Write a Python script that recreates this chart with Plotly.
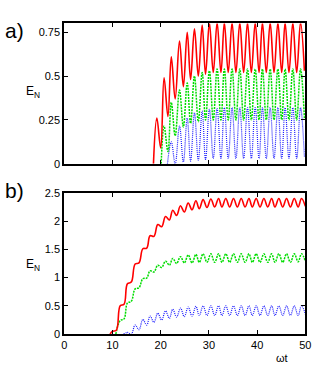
import plotly.graph_objects as go

# ---------------------------------------------------------------------------
# Dados (extremos das oscilações)
# ---------------------------------------------------------------------------
# painel a): instantes dos máximos/mínimos
ta = [19.2, 20.0, 20.7, 21.5, 22.2, 23.0, 23.9, 24.7, 25.5, 26.2,
      27.0, 27.8, 28.6, 29.3, 30.1, 30.9, 31.7, 32.5, 33.2, 34.0,
      34.8, 35.6, 36.4, 37.2, 38.0, 38.8, 39.6, 40.4, 41.1, 41.9,
      42.7, 43.5, 44.3, 45.1, 45.8, 46.6, 47.4, 48.2, 49.0, 49.8]

red_a_t0 = 18.5
red_a = [0.26, 0.09, 0.49, 0.27, 0.61, 0.37, 0.70, 0.44, 0.75, 0.48,
         0.77, 0.50, 0.79, 0.51, 0.805, 0.52, 0.805, 0.52, 0.805, 0.52,
         0.805, 0.52, 0.805, 0.52, 0.805, 0.52, 0.805, 0.52, 0.805, 0.52,
         0.805, 0.52, 0.805, 0.52, 0.805, 0.52, 0.805, 0.52, 0.805, 0.53]

green_a_t0 = 20.1
green_a = [0.215, 0.07, 0.35, 0.16, 0.42, 0.21, 0.46, 0.23, 0.50, 0.24,
           0.52, 0.25, 0.53, 0.25, 0.54, 0.25, 0.54, 0.25, 0.54, 0.25,
           0.54, 0.25, 0.54, 0.25, 0.54, 0.25, 0.54, 0.25, 0.54, 0.25,
           0.54, 0.25, 0.54, 0.25, 0.54, 0.25, 0.54, 0.26]

blue_a_t0 = 21.4
blue_a = [0.125, 0.00, 0.215, 0.01, 0.26, 0.015, 0.29, 0.02, 0.30, 0.025,
          0.31, 0.03, 0.315, 0.03, 0.32, 0.03, 0.32, 0.03, 0.32, 0.03,
          0.32, 0.03, 0.32, 0.03, 0.32, 0.03, 0.32, 0.03, 0.32, 0.03,
          0.32, 0.03, 0.32, 0.03, 0.32, 0.04]

# painel b)
tb = [10.0, 10.8, 11.6, 12.4, 13.1, 13.9, 14.7, 15.5, 16.3, 17.1,
      17.8, 18.6, 19.4, 20.2, 21.0, 21.8, 22.5, 23.3, 24.1, 24.9,
      25.7, 26.5, 27.3, 28.0, 28.8, 29.6, 30.4, 31.2, 32.0, 32.7,
      33.5, 34.3, 35.1, 35.9, 36.7, 37.5, 38.3, 39.0, 39.8, 40.6,
      41.4, 42.2, 43.0, 43.7, 44.5, 45.3, 46.1, 46.9, 47.7, 48.5,
      49.2, 50.0]

red_b_t0 = 9.5
red_b = [0.05, 0.07, 0.50, 0.53, 0.89, 0.92, 1.24, 1.26, 1.51, 1.52,
         1.74, 1.73, 1.94, 1.90, 2.08, 2.02, 2.19, 2.10, 2.27, 2.16,
         2.32, 2.20, 2.36, 2.22, 2.38, 2.24, 2.39, 2.25, 2.40, 2.25,
         2.40, 2.25, 2.40, 2.25, 2.40, 2.25, 2.40, 2.25, 2.40, 2.25,
         2.40, 2.25, 2.40, 2.25, 2.40, 2.25, 2.40, 2.25, 2.40, 2.25,
         2.40, 2.26]

green_b_t0 = 10.7
green_b = [0.24, 0.27, 0.55, 0.58, 0.80, 0.82, 0.98, 0.99, 1.12, 1.10,
           1.22, 1.18, 1.29, 1.22, 1.34, 1.25, 1.37, 1.26, 1.40, 1.26,
           1.41, 1.27, 1.42, 1.27, 1.42, 1.27, 1.42, 1.27, 1.42, 1.27,
           1.42, 1.27, 1.42, 1.27, 1.42, 1.27, 1.42, 1.27, 1.42, 1.27,
           1.42, 1.27, 1.42, 1.27, 1.42, 1.27, 1.42, 1.28, 1.42, 1.29]

blue_b_t0 = 12.3
blue_b = [0.03, 0.00, 0.16, 0.08, 0.26, 0.16, 0.32, 0.21, 0.37, 0.25,
          0.41, 0.28, 0.44, 0.30, 0.46, 0.31, 0.48, 0.32, 0.49, 0.33,
          0.50, 0.33, 0.50, 0.33, 0.50, 0.33, 0.50, 0.33, 0.50, 0.33,
          0.50, 0.33, 0.50, 0.33, 0.50, 0.33, 0.50, 0.33, 0.50, 0.33,
          0.50, 0.33, 0.50, 0.33, 0.50, 0.33, 0.50, 0.35]

ticks_x = [0, 10, 20, 30, 40, 50]
ticks_a = [0, 0.25, 0.5, 0.75]
ticks_b = [0, 0.5, 1, 1.5, 2, 2.5]

VERMELHO = '#ff0000'
VERDE = '#00dd00'
AZUL = '#2020ff'

# ---------------------------------------------------------------------------
fig = go.Figure()

def curva(t0, ts, ys, cor, dash, largura, xa, ya):
    fig.add_trace(go.Scatter(
        x=[t0] + ts, y=[0] + ys, mode='lines',
        line=dict(color=cor, width=largura, dash=dash, shape='spline', smoothing=1.1),
        xaxis=xa, yaxis=ya, showlegend=False, hoverinfo='skip'))

# painel a)
curva(blue_a_t0, ta[4:], blue_a, AZUL, '1px,1px', 1.2, 'x', 'y')
curva(green_a_t0, ta[2:], green_a, VERDE, '2px,1px', 1.5, 'x', 'y')
curva(red_a_t0, ta, red_a, VERMELHO, 'solid', 1.6, 'x', 'y')
# painel b)
curva(blue_b_t0, tb[4:], blue_b, AZUL, '1px,1px', 1.2, 'x2', 'y2')
curva(green_b_t0, tb[2:], green_b, VERDE, '2px,1px', 1.5, 'x2', 'y2')
curva(red_b_t0, tb, red_b, VERMELHO, 'solid', 1.6, 'x2', 'y2')

eixo = dict(showgrid=False, zeroline=False, showline=True, linecolor='black',
            linewidth=2, mirror='ticks', ticks='inside', ticklen=4,
            tickcolor='black', tickwidth=1,
            tickfont=dict(family='Liberation Sans', size=11, color='black'))

W, H = 324, 374

def px_x(v):
    return v / W

def px_y(v):
    return 1 - v / H

xdom = [px_x(63), px_x(311)]

fig.update_layout(
    width=W, height=H,
    margin=dict(l=0, r=0, t=0, b=0),
    paper_bgcolor='white', plot_bgcolor='white',
    xaxis=dict(eixo, domain=xdom, range=[0, 50], tickvals=ticks_x,
               showticklabels=False, anchor='y'),
    yaxis=dict(eixo, domain=[px_y(163), px_y(18)], range=[0, 0.8],
               tickvals=ticks_a, ticktext=['0', '0.25', '0.5', '0.75'], anchor='x'),
    xaxis2=dict(eixo, domain=xdom, range=[0, 50], tickvals=ticks_x, anchor='y2'),
    yaxis2=dict(eixo, domain=[px_y(339), px_y(193)], range=[0, 2.5],
                tickvals=ticks_b, ticktext=['0', '0.5', '1', '1.5', '2', '2.5'],
                anchor='x2'),
)

fonte = dict(family='Liberation Sans', color='black')
notas = [
    ('a)', 12, 25, 21),
    ('b)', 12, 191, 21),
    ('E<sub>N</sub>', 31, 89, 12),
    ('E<sub>N</sub>', 31, 268, 12),
    ('ωt', 287, 364, 11),
]
for txt, px_, py_, sz in notas:
    fig.add_annotation(text=txt, x=px_x(px_), y=px_y(py_), xref='paper', yref='paper',
                       showarrow=False, xanchor='center', yanchor='middle',
                       font=dict(fonte, size=sz))

# tira a margem padrão do body para a figura ocupar a janela toda
fig.write_html('out.html', config={'displayModeBar': False},
               post_script="document.body.style.margin='0';")
